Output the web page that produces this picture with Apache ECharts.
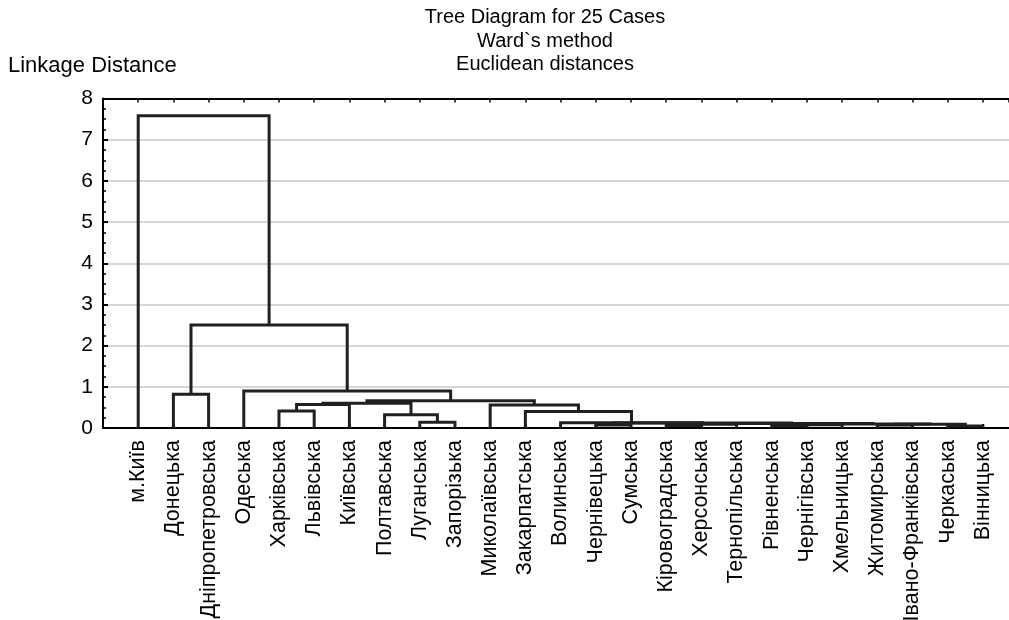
<!DOCTYPE html>
<html><head><meta charset="utf-8">
<script src="https://cdn.jsdelivr.net/npm/echarts@6/dist/echarts.min.js"></script>
<style>html,body{margin:0;padding:0;background:#fff}#c{width:1009px;height:620px}</style>
</head><body><div id="c"></div>
<script>
// Leaves in dendrogram order
const leaves = ['м.Київ','Донецька','Дніпропетровська','Одеська','Харківська','Львівська','Київська','Полтавська','Луганська','Запорізька','Миколаївська','Закарпатська','Волинська','Чернівецька','Сумська','Кіровоградська','Херсонська','Тернопільська','Рівненська','Чернігівська','Хмельницька','Житомирська','Івано-Франківська','Черкаська','Вінницька'];
// Merges: child A, child B, linkage distance; indices 0-24 = leaves, 25+ = merges in order
const mergeA = [23, 18, 15, 13, 21, 26, 27, 29, 30, 31, 28, 12,  8,  7,  4, 39, 40, 11, 10, 41,  3,  1, 46,  0];
const mergeB = [24, 19, 16, 14, 22, 20, 17, 25, 32, 33, 34, 35,  9, 37,  5,  6, 38, 36, 42, 43, 44,  2, 45, 47];
const mergeH = [0.05, 0.05, 0.06, 0.07, 0.07, 0.08, 0.09, 0.09, 0.10, 0.11, 0.12, 0.13, 0.14, 0.32, 0.41, 0.57, 0.60, 0.40, 0.56, 0.66, 0.90, 0.82, 2.50, 7.58];
const yTicks = [0,1,2,3,4,5,6,7,8];

const n = leaves.length;
const pos = leaves.map((_, i) => i + 1);
const hgt = leaves.map(() => 0);
const segs = [];
for (let k = 0; k < mergeA.length; k++) {
  const a = mergeA[k], b = mergeB[k], h = mergeH[k];
  segs.push({coords: [[pos[a], hgt[a]], [pos[a], h], [pos[b], h], [pos[b], hgt[b]]]});
  pos.push((pos[a] + pos[b]) / 2);
  hgt.push(h);
}

const chart = echarts.init(document.getElementById('c'), null, {renderer: 'canvas'});
const font = 'Liberation Sans, Arial, sans-serif';
chart.setOption({
  animation: false,
  textStyle: {fontFamily: font},
  grid: {left: 103, right: 0, top: 98.5, bottom: 192, containLabel: false, outerBoundsMode: 'none'},
  graphic: [
    {type: 'text', left: 8, top: 55, style: {text: 'Linkage Distance', font: '22px ' + font, fill: '#000'}},
    {type: 'text', x: 545, y: 6, style: {text: 'Tree Diagram for 25 Cases\nWard`s method\nEuclidean distances', font: '20px ' + font, fill: '#000', align: 'center', lineHeight: 23.5}}
  ],
  xAxis: [
    {type: 'value', position: 'bottom', min: 0, max: 25.74, interval: 1,
     axisLine: {show: true, lineStyle: {color: '#000', width: 2}},
     axisTick: {show: true, inside: true, length: 4, lineStyle: {color: '#000', width: 2}},
     splitLine: {show: false},
     axisLabel: {show: true, rotate: 90, margin: 12, fontSize: 21.5, color: '#000', fontFamily: font, showMaxLabel: false, showMinLabel: false, hideOverlap: false,
       formatter: v => (Number.isInteger(v) && v >= 1 && v <= n) ? leaves[v - 1] : ''}},
    {type: 'value', position: 'top', min: 0, max: 25.74, interval: 1,
     axisLine: {show: true, onZero: false, lineStyle: {color: '#000', width: 2}},
     axisTick: {show: true, inside: true, length: 4, lineStyle: {color: '#000', width: 1.5}},
     splitLine: {show: false}, axisLabel: {show: false}}
  ],
  yAxis: {type: 'value', min: yTicks[0], max: yTicks[yTicks.length - 1], interval: 1,
    axisLine: {show: true, lineStyle: {color: '#000', width: 2}},
    axisTick: {show: true, inside: true, length: 5, lineStyle: {color: '#000', width: 2}},
    minorTick: {show: true, splitNumber: 4, length: 3, lineStyle: {color: '#000', width: 1.5}},
    splitLine: {show: true, lineStyle: {color: '#c8c8c8', width: 1.5}},
    axisLabel: {fontSize: 21, color: '#000', margin: 10, fontFamily: font}},
  series: [{
    type: 'lines', coordinateSystem: 'cartesian2d', polyline: true, xAxisIndex: 0, yAxisIndex: 0,
    lineStyle: {color: '#231f20', width: 3, opacity: 1},
    data: segs
  }]
});
</script></body></html>
